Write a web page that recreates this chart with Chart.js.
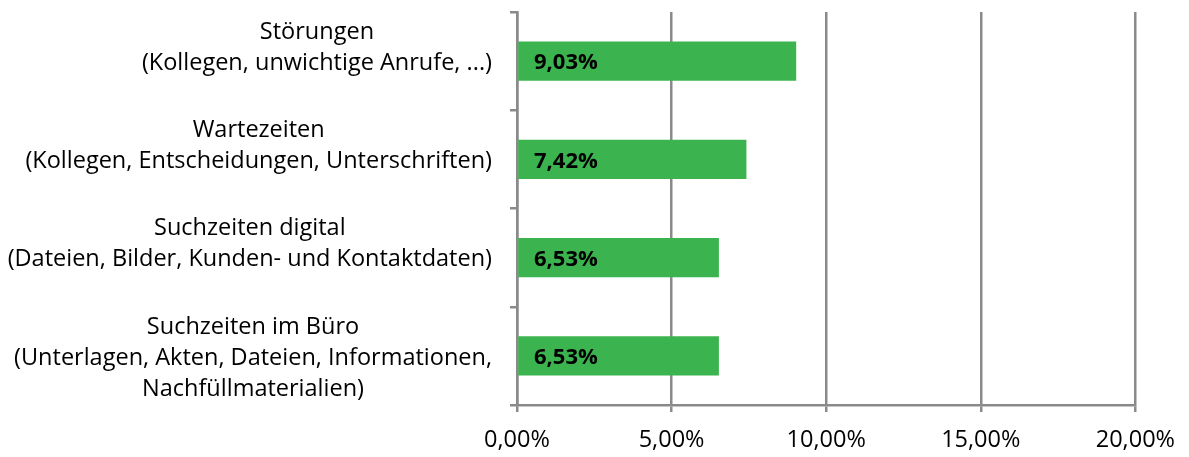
<!DOCTYPE html>
<html>
<head>
<meta charset="utf-8">
<script src="https://cdn.jsdelivr.net/npm/chart.js@4"></script>
<style>
  body { margin: 0; background: #fff; }
  #box { width: 1189px; height: 457px; }
</style>
</head>
<body>
<div id="box"><canvas id="Zeiten"></canvas></div>
<script>
var kategorien = [
    ['Störungen', '(Kollegen, unwichtige Anrufe, ...)', ''],
    ['Wartezeiten', '(Kollegen, Entscheidungen, Unterschriften)', ''],
    ['Suchzeiten digital', '(Dateien, Bilder, Kunden- und Kontaktdaten)', ''],
    ['Suchzeiten im Büro', '(Unterlagen, Akten, Dateien, Informationen,', 'Nachfüllmaterialien)']
];
var werte = [9.03, 7.42, 6.53, 6.53];
var achseMin = 0;
var achseMax = 20;
var schritt = 5;

var schrift = '"Open Sans", sans-serif';
var grau = '#8a8a8a';

function prozent(v) {
    return v.toFixed(2).replace('.', ',') + '%';
}

// Kategorien rechtsbündig als Block, Zeilen darin zentriert
var labelPlugin = {
    id: 'labels',
    afterDraw: function(chart) {
        var ctx = chart.ctx;
        var y = chart.scales.y;
        var x = chart.scales.x;
        ctx.save();
        ctx.font = '23.5px ' + schrift;
        ctx.fillStyle = '#000';
        ctx.textAlign = 'center';
        ctx.textBaseline = 'middle';
        kategorien.forEach(function(zeilen, i) {
            var breite = 0;
            zeilen.forEach(function(z) { breite = Math.max(breite, ctx.measureText(z).width); });
            var mitte = 492 - breite / 2;
            var cy = y.getPixelForValue(i) + 2;
            var start = cy - (zeilen.length - 1) / 2 * 31;
            zeilen.forEach(function(z, k) {
                ctx.fillText(z, mitte, start + k * 31);
            });
        });
        // Werte in den Balken
        ctx.font = 'bold 22px ' + schrift;
        ctx.textAlign = 'left';
        werte.forEach(function(v, i) {
            ctx.fillText(prozent(v), x.getPixelForValue(0) + 17, y.getPixelForValue(i) + 2);
        });
        ctx.restore();
    }
};

var chart = new Chart(document.getElementById('Zeiten'), {
    type: 'bar',
    data: {
        labels: kategorien,
        datasets: [{
            data: werte,
            backgroundColor: '#3bb44f',
            categoryPercentage: 1,
            barPercentage: 0.4
        }]
    },
    options: {
        indexAxis: 'y',
        responsive: true,
        maintainAspectRatio: false,
        animation: false,
        layout: { padding: { top: 12, right: 50, left: 0, bottom: 0 } },
        plugins: {
            legend: { display: false },
            tooltip: { enabled: false }
        },
        scales: {
            x: {
                min: achseMin,
                max: achseMax,
                ticks: {
                    stepSize: schritt,
                    color: '#000',
                    padding: 14,
                    font: { family: schrift, size: 23.5 },
                    callback: function(v) { return prozent(v); }
                },
                grid: { color: grau, lineWidth: 2.5, tickLength: 7 },
                border: { color: grau, width: 2.5 },
                afterFit: function(s) { s.height = 52; }
            },
            y: {
                ticks: { display: false },
                grid: { drawOnChartArea: false, offset: true, color: grau, lineWidth: 2.5, tickLength: 7 },
                border: { color: grau, width: 2.5 },
                afterFit: function(s) { s.width = 517; }
            }
        }
    },
    plugins: [labelPlugin]
});
</script>
</body>
</html>
